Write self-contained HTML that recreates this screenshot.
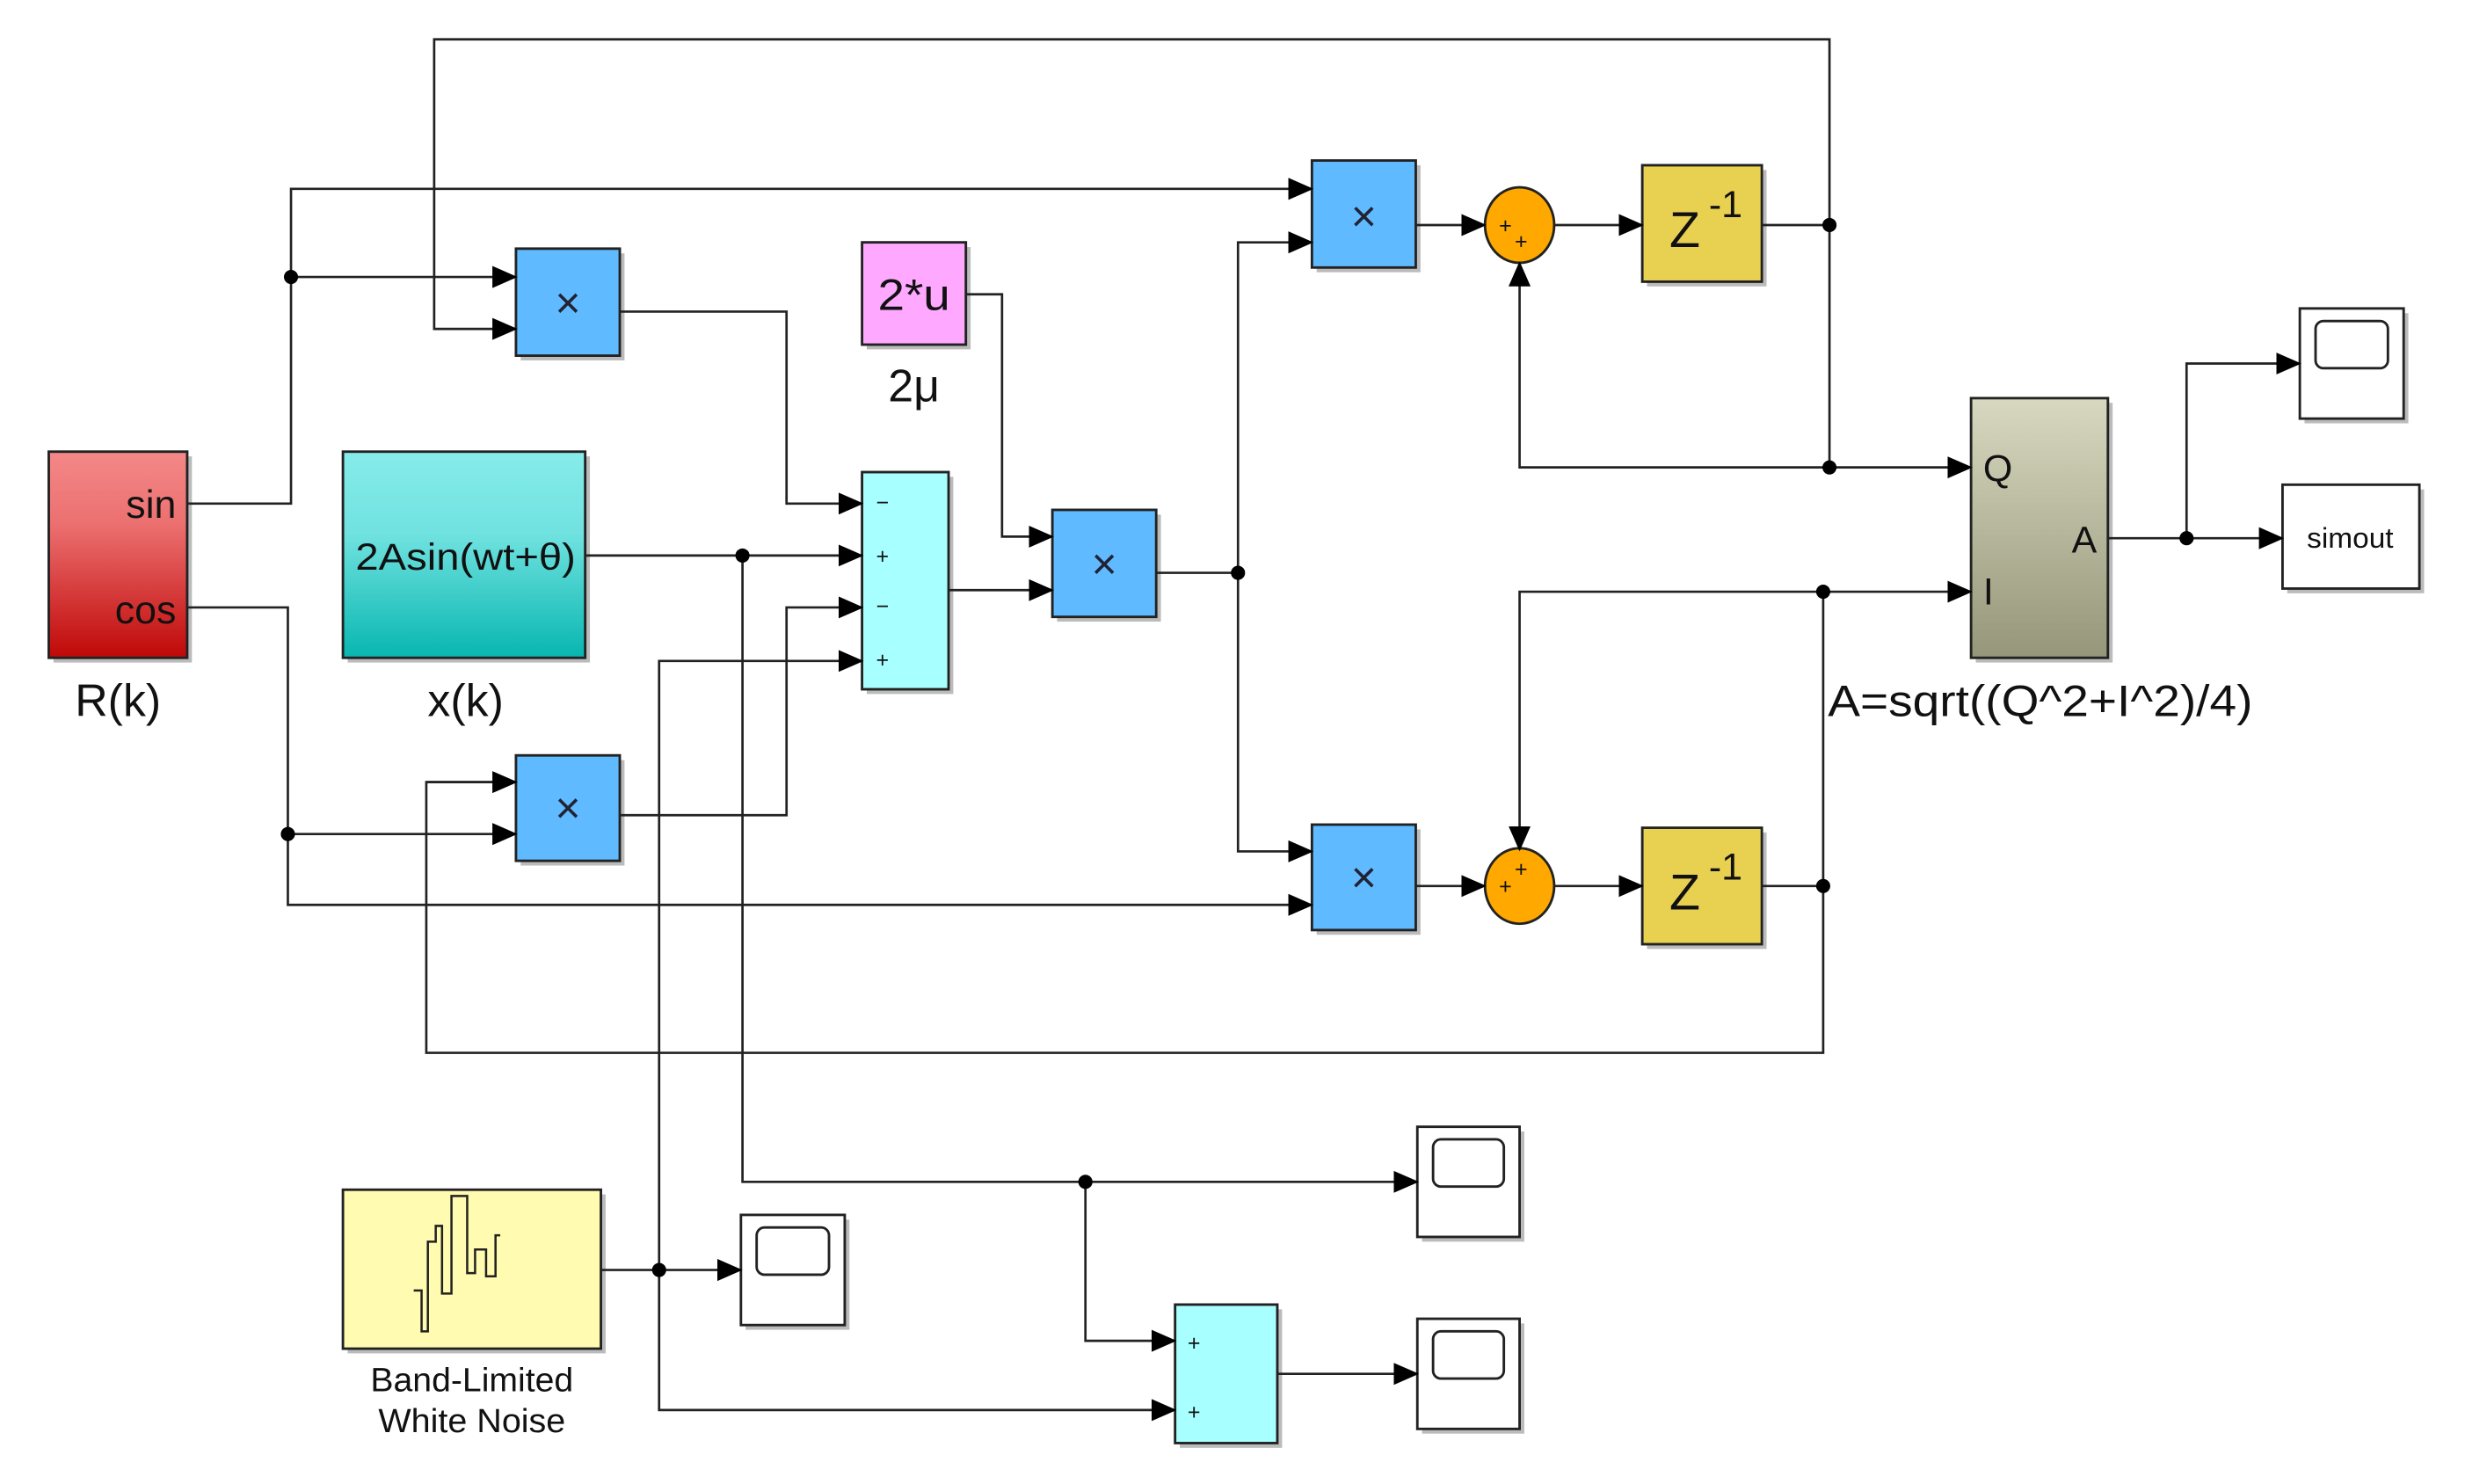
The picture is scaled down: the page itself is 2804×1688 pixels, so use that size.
<!DOCTYPE html>
<html><head><meta charset="utf-8"><style>html,body{margin:0;padding:0;background:#fff}svg{display:block}</style></head>
<body>
<svg width="2804" height="1688" viewBox="0 0 1567 943" preserveAspectRatio="none" xmlns="http://www.w3.org/2000/svg" font-family="Liberation Sans, sans-serif">
<defs>
<marker id="a" markerWidth="16" markerHeight="16" refX="15" refY="8" orient="auto" markerUnits="userSpaceOnUse"><path d="M0,1 L16,8 L0,15 Z" fill="#000"/></marker>
<linearGradient id="gr" x1="0" y1="0" x2="0" y2="1"><stop offset="0" stop-color="#f48888"/><stop offset="0.35" stop-color="#ec7070"/><stop offset="1" stop-color="#c00808"/></linearGradient>
<linearGradient id="gt" x1="0" y1="0" x2="0" y2="1"><stop offset="0" stop-color="#86ecea"/><stop offset="0.4" stop-color="#70e2e0"/><stop offset="1" stop-color="#08b6b0"/></linearGradient>
<linearGradient id="gf" x1="0" y1="0" x2="0" y2="1"><stop offset="0" stop-color="#d8d8c0"/><stop offset="1" stop-color="#96967a"/></linearGradient>
</defs>
<g fill="#bbb">
<rect x="34" y="290" width="88" height="131"/><rect x="221" y="290" width="154" height="131"/>
<rect x="331" y="161" width="66" height="68"/><rect x="551" y="157" width="66" height="65"/>
<rect x="551" y="303" width="55" height="138"/><rect x="672" y="327" width="66" height="68"/>
<rect x="837" y="105" width="66" height="68"/><rect x="1047" y="108" width="76" height="74"/>
<rect x="837" y="527" width="66" height="67"/><rect x="1047" y="529" width="76" height="74"/>
<rect x="331" y="483" width="66" height="67"/><rect x="1256" y="256" width="87" height="165"/>
<rect x="1465" y="199" width="66" height="70"/><rect x="1454" y="311" width="87" height="66"/>
<rect x="221" y="759" width="164" height="101"/><rect x="474" y="775" width="66" height="70"/>
<rect x="904" y="719" width="65" height="70"/><rect x="750" y="832" width="65" height="88"/>
<rect x="904" y="841" width="65" height="70"/>
</g>
<g stroke="#222" stroke-width="1.6">
<rect x="31" y="287" width="88" height="131" fill="url(#gr)"/>
<rect x="218" y="287" width="154" height="131" fill="url(#gt)"/>
<rect x="328" y="158" width="66" height="68" fill="#60baff"/>
<rect x="548" y="154" width="66" height="65" fill="#ffa8ff"/>
<rect x="548" y="300" width="55" height="138" fill="#a8ffff"/>
<rect x="669" y="324" width="66" height="68" fill="#60baff"/>
<rect x="834" y="102" width="66" height="68" fill="#60baff"/>
<ellipse cx="966" cy="143" rx="22" ry="24" fill="#ffa800"/>
<rect x="1044" y="105" width="76" height="74" fill="#e8d050"/>
<rect x="834" y="524" width="66" height="67" fill="#60baff"/>
<ellipse cx="966" cy="563" rx="22" ry="24" fill="#ffa800"/>
<rect x="1044" y="526" width="76" height="74" fill="#e8d050"/>
<rect x="328" y="480" width="66" height="67" fill="#60baff"/>
<rect x="1253" y="253" width="87" height="165" fill="url(#gf)"/>
<rect x="1462" y="196" width="66" height="70" fill="#fff"/>
<rect x="1451" y="308" width="87" height="66" fill="#fff"/>
<rect x="218" y="756" width="164" height="101" fill="#fffbb0"/>
<rect x="471" y="772" width="66" height="70" fill="#fff"/>
<rect x="901" y="716" width="65" height="70" fill="#fff"/>
<rect x="747" y="829" width="65" height="88" fill="#a8ffff"/>
<rect x="901" y="838" width="65" height="70" fill="#fff"/>
</g>
<g fill="none" stroke="#222" stroke-width="1.6">
<rect x="1472" y="204" width="46" height="30" rx="5"/>
<rect x="481" y="780" width="46" height="30" rx="5"/>
<rect x="911" y="724" width="45" height="30" rx="5"/>
<rect x="911" y="846" width="45" height="30" rx="5"/>
<path d="M263,820 h5 v26 h4 v-57 h5 v-10 h4 v43 h6 v-62 h10 v49 h5 v-15 h7 v17 h6 v-26 h3" stroke-width="1.4"/>
</g>
<g fill="none" stroke="#222" stroke-width="1.5">
<path d="M119,320 H185 V120 H834" marker-end="url(#a)"/>
<path d="M185,176 H328" marker-end="url(#a)"/>
<path d="M1120,143 H1163 V25 H276 V209 H328" marker-end="url(#a)"/>
<path d="M1163,143 V297 H1253" marker-end="url(#a)"/>
<path d="M1163,297 H966 V167" marker-end="url(#a)"/>
<path d="M394,198 H500 V320 H548" marker-end="url(#a)"/>
<path d="M372,353 H548" marker-end="url(#a)"/>
<path d="M472,353 V751 H901" marker-end="url(#a)"/>
<path d="M690,751 V852 H747" marker-end="url(#a)"/>
<path d="M394,518 H500 V386 H548" marker-end="url(#a)"/>
<path d="M382,807 H471" marker-end="url(#a)"/>
<path d="M419,807 V420 H548" marker-end="url(#a)"/>
<path d="M419,807 V896 H747" marker-end="url(#a)"/>
<path d="M603,375 H669" marker-end="url(#a)"/>
<path d="M614,187 H637 V341 H669" marker-end="url(#a)"/>
<path d="M735,364 H787 V154 H834" marker-end="url(#a)"/>
<path d="M787,364 V541 H834" marker-end="url(#a)"/>
<path d="M119,386 H183 V575 H834" marker-end="url(#a)"/>
<path d="M183,530 H328" marker-end="url(#a)"/>
<path d="M328,497 H271 V669 H1159 V563 H1120"/>
<path d="M271,497 H328" marker-end="url(#a)"/>
<path d="M1159,563 V376 H1253" marker-end="url(#a)"/>
<path d="M1159,376 H966 V540" marker-end="url(#a)"/>
<path d="M900,143 H944" marker-end="url(#a)"/>
<path d="M988,143 H1044" marker-end="url(#a)"/>
<path d="M900,563 H944" marker-end="url(#a)"/>
<path d="M988,563 H1044" marker-end="url(#a)"/>
<path d="M1340,342 H1451" marker-end="url(#a)"/>
<path d="M1390,342 V231 H1462" marker-end="url(#a)"/>
<path d="M812,873 H901" marker-end="url(#a)"/>
</g>
<g fill="#000">
<circle cx="185" cy="176" r="4.5"/><circle cx="1163" cy="143" r="4.5"/><circle cx="1163" cy="297" r="4.5"/>
<circle cx="472" cy="353" r="4.5"/><circle cx="690" cy="751" r="4.5"/><circle cx="419" cy="807" r="4.5"/>
<circle cx="787" cy="364" r="4.5"/><circle cx="183" cy="530" r="4.5"/><circle cx="1159" cy="563" r="4.5"/>
<circle cx="1159" cy="376" r="4.5"/><circle cx="1390" cy="342" r="4.5"/>
</g>
<g fill="#111" text-anchor="middle">
<text x="112" y="329" font-size="25" text-anchor="end">sin</text>
<text x="112" y="396" font-size="25" text-anchor="end">cos</text>
<text x="75" y="455" font-size="29">R(k)</text>
<text x="296" y="362" font-size="24" textLength="140" lengthAdjust="spacingAndGlyphs">2Asin(wt+θ)</text>
<text x="296" y="455" font-size="29">x(k)</text>
<text x="581" y="197" font-size="28" textLength="46" lengthAdjust="spacingAndGlyphs">2*u</text>
<text x="581" y="255" font-size="29">2μ</text>
<g font-size="28" fill="#223">
<text x="361" y="202">×</text>
<text x="361" y="523">×</text>
<text x="702" y="368">×</text>
<text x="867" y="147">×</text>
<text x="867" y="567">×</text>
</g>
<text x="1071" y="157" font-size="32">Z</text><text x="1097" y="138" font-size="24">-1</text>
<text x="1071" y="578" font-size="32">Z</text><text x="1097" y="559" font-size="24">-1</text>
<text x="1270" y="306" font-size="24">Q</text>
<text x="1264" y="384" font-size="24">I</text>
<text x="1325" y="351" font-size="24">A</text>
<text x="1297" y="455" font-size="28" textLength="270" lengthAdjust="spacingAndGlyphs">A=sqrt((Q^2+I^2)/4)</text>
<text x="1494" y="348" font-size="18" textLength="55" lengthAdjust="spacingAndGlyphs">simout</text>
<text x="300" y="884" font-size="21" textLength="129" lengthAdjust="spacingAndGlyphs">Band-Limited</text>
<text x="300" y="910" font-size="21" textLength="119" lengthAdjust="spacingAndGlyphs">White Noise</text>
<g font-size="14">
<text x="561" y="324">−</text><text x="561" y="358">+</text><text x="561" y="390">−</text><text x="561" y="424">+</text>
<text x="759" y="858">+</text><text x="759" y="902">+</text>
<text x="957" y="148">+</text><text x="967" y="158">+</text>
<text x="957" y="568">+</text><text x="967" y="557">+</text>
</g>
</g>
</svg>
</body></html>
